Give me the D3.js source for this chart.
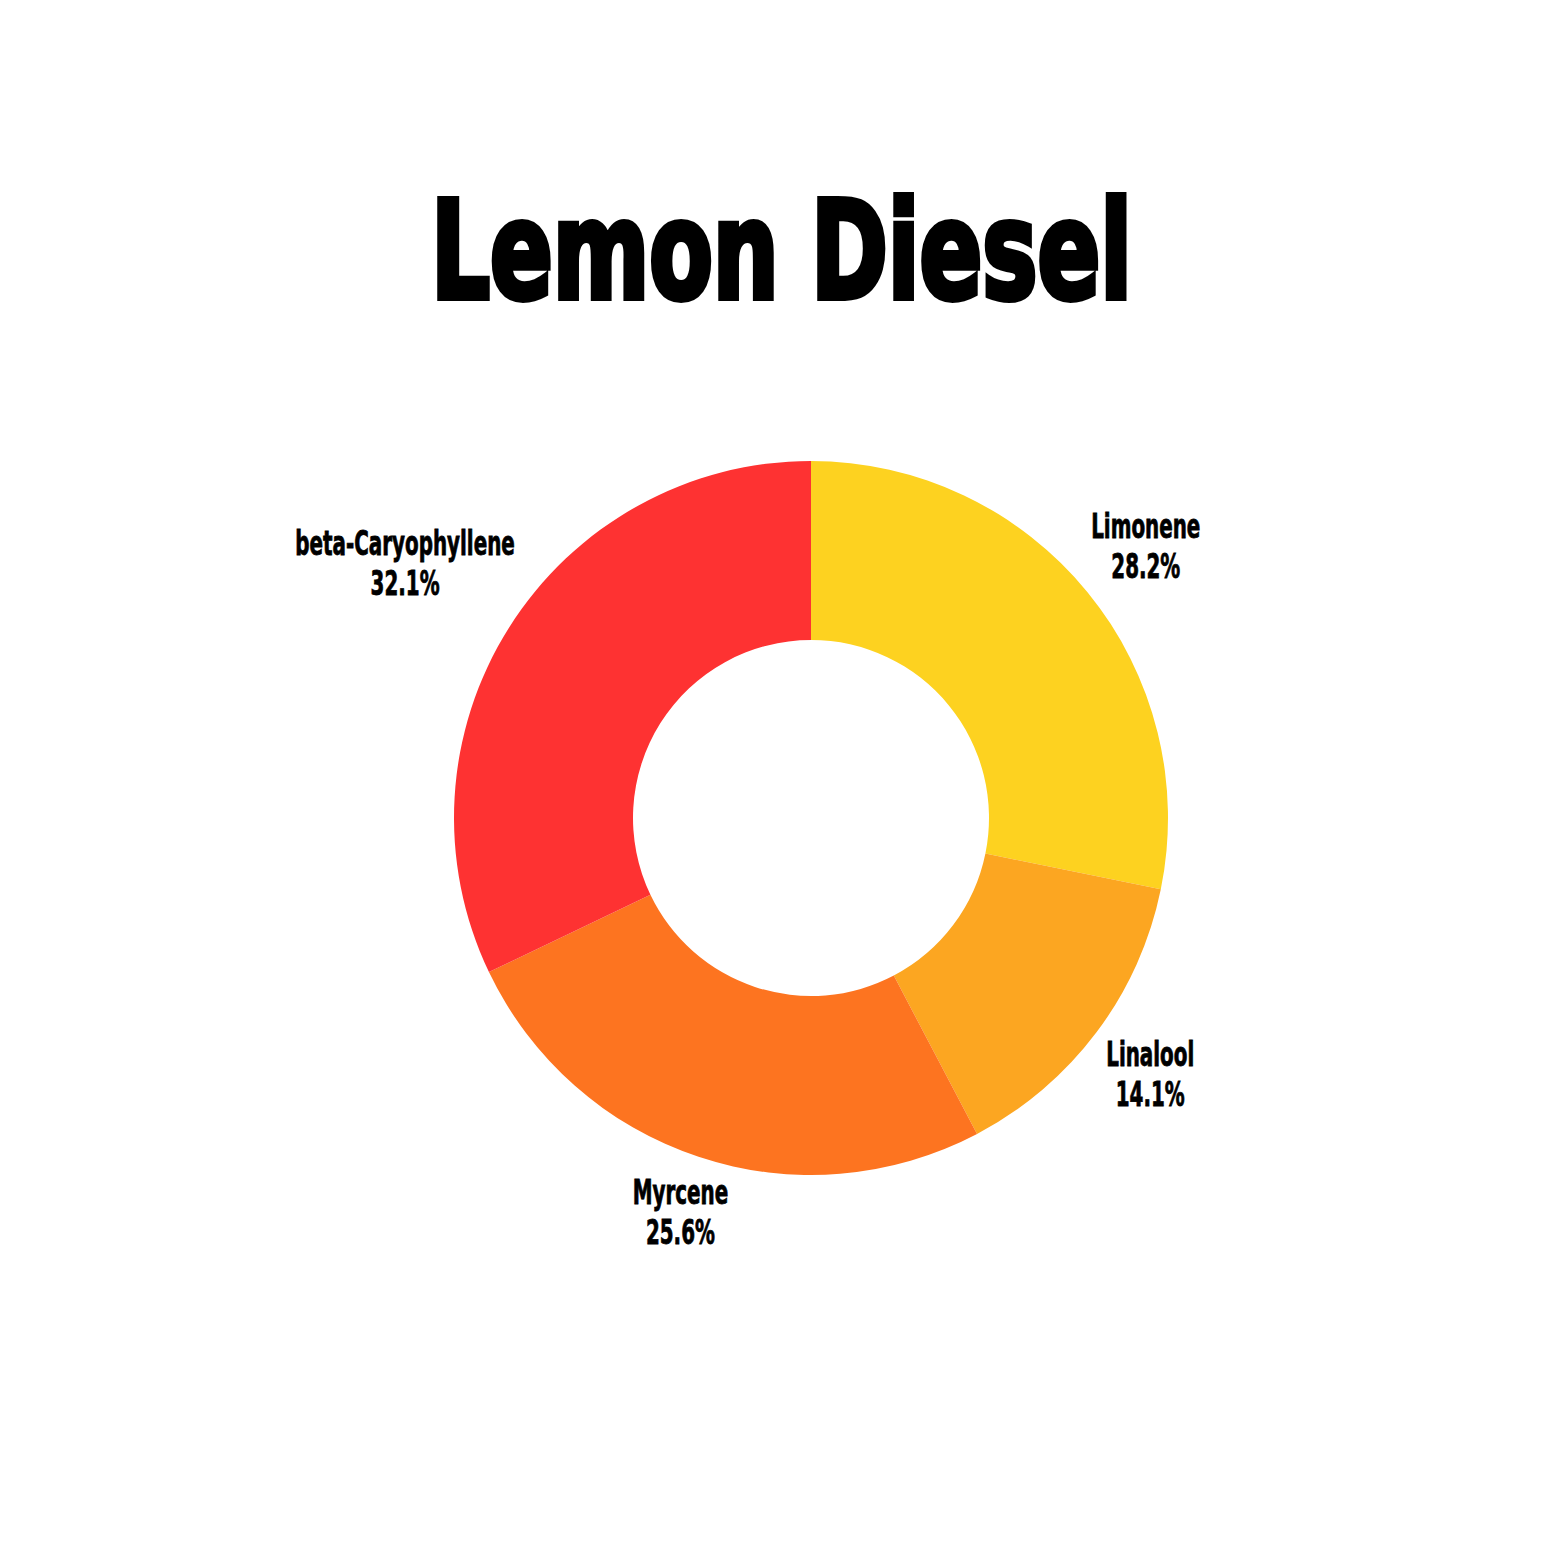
<!DOCTYPE html>
<html><head><meta charset="utf-8">
<script src="https://cdn.jsdelivr.net/npm/d3@7"></script>
<style>
html,body{margin:0;padding:0;background:#fff;}
text{font-family:"Liberation Sans Narrow","DejaVu Sans Condensed","Roboto Condensed",sans-serif;font-weight:bold;font-stretch:condensed;}
</style></head>
<body>
<svg id="c" width="1563" height="1563"></svg>
<script>
const title = "Lemon Diesel";
const categories = ["Limonene","Linalool","Myrcene","beta-Caryophyllene"];
const values = [28.2, 14.1, 25.6, 32.1];
const colors = ["#FDD220","#FCA621","#FD7420","#FE3232"];

const W = 1563, H = 1563;
const svg = d3.select("#c");
svg.append("rect").attr("width",W).attr("height",H).attr("fill","#fff");

const cx = 811, cy = 818, rOuter = 357, rInner = 178;

svg.append("text")
  .attr("x", 781.5).attr("y", 298)
  .attr("text-anchor","middle")
  .attr("font-size", 136)
  .attr("fill","#000")
  .attr("stroke","#000").attr("stroke-width",6).attr("stroke-linejoin","miter")
  .attr("textLength", 701).attr("lengthAdjust","spacingAndGlyphs")
  .text(title);

const data = categories.map((c,i)=>({name:c, value:values[i], color:colors[i]}));
const pie = d3.pie().value(d=>d.value).sort(null);
const arc = d3.arc().innerRadius(rInner).outerRadius(rOuter);
const arcs = pie(data);

const g = svg.append("g").attr("transform",`translate(${cx},${cy})`);
g.selectAll("path").data(arcs).enter().append("path")
  .attr("d", arc).attr("fill", d=>d.data.color);

const sx = 0.67;
const fmt = d3.format(".1f");
const lg = g.selectAll("g.lab").data(arcs).enter().append("g").attr("class","lab");
lg.each(function(d){
  const sel = d3.select(this);
  const inner = sel.append("g").attr("transform",`scale(${sx},1)`);
  inner.append("text").attr("text-anchor","middle").attr("y",-7)
    .attr("font-size",33).attr("fill","#000")
    .attr("stroke","#000").attr("stroke-width",0.8)
    .text(d.data.name);
  inner.append("text").attr("text-anchor","middle").attr("y",33)
    .attr("font-size",33).attr("fill","#000")
    .attr("stroke","#000").attr("stroke-width",0.8)
    .text(fmt(d.data.value)+"%");
  const bb = this.getBBox();
  const w = bb.width;
  const a = (d.startAngle+d.endAngle)/2;
  const r = 371 + (w/2)*Math.abs(Math.sin(a)) + 30*Math.abs(Math.cos(a));
  const x = r*Math.sin(a), y = -r*Math.cos(a);
  sel.attr("transform",`translate(${x},${y})`);
});
</script>
</body></html>
